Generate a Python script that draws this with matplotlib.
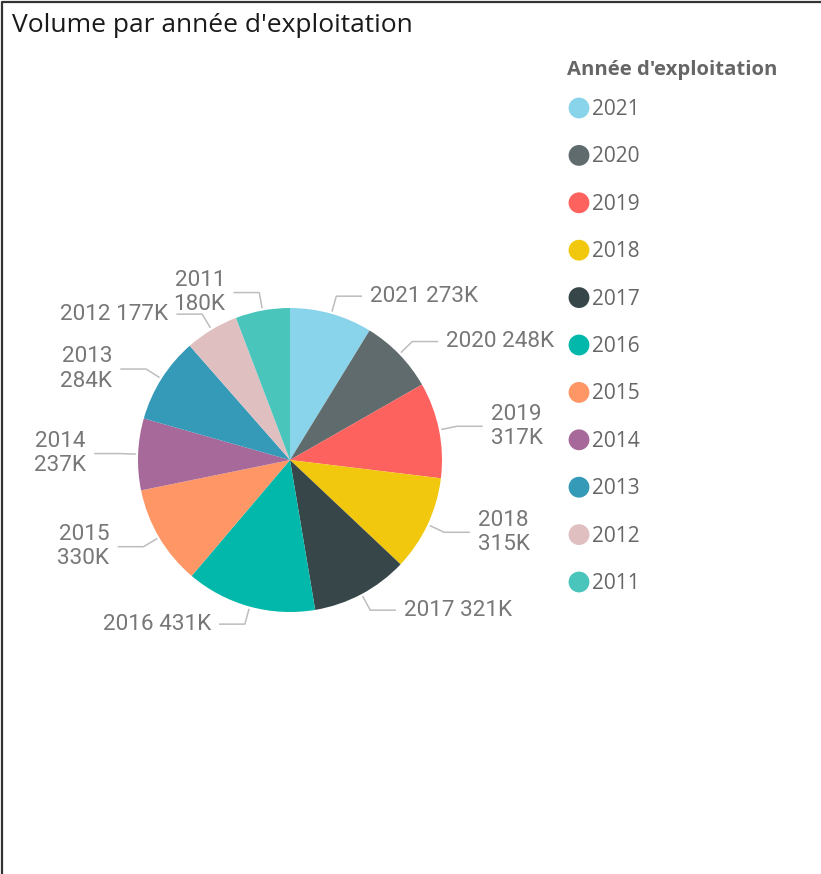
import matplotlib
matplotlib.use('Agg')
import matplotlib.pyplot as plt
import numpy as np

# ── Données ────────────────────────────────────────────────────────────────────
years = ['2021', '2020', '2019', '2018', '2017', '2016',
         '2015', '2014', '2013', '2012', '2011']
volumes = [273, 248, 317, 315, 321, 431, 330, 237, 284, 177, 180]   # en milliers
colors = ['#8AD4EB', '#5F6B6D', '#FD625E', '#F2C80F', '#374649', '#01B8AA',
          '#FE9666', '#A66999', '#3599B8', '#DFBFBF', '#4AC5BB']
# étiquettes sur deux lignes (comme dans Power BI)
wrap = [False, False, True, True, False, False, True, True, True, False, True]

title = "Volume par année d'exploitation"
legend_title = "Année d'exploitation"

# ── Figure en coordonnées pixels ───────────────────────────────────────────────
W, H = 821, 874
fig = plt.figure(figsize=(W / 100, H / 100), dpi=100)
ax = fig.add_axes([0, 0, 1, 1])

cx, cy, R = 290, H - 460, 152
wedges, _ = ax.pie(volumes, colors=colors, startangle=90, counterclock=False,
                   center=(cx, cy), radius=R, wedgeprops=dict(linewidth=0))
ax.set_xlim(0, W)
ax.set_ylim(0, H)
ax.set_aspect('auto')
ax.axis('off')

# étiquettes + lignes de rappel
for w, yr, v, wr in zip(wedges, years, volumes, wrap):
    ang = np.deg2rad((w.theta1 + w.theta2) / 2)
    dx, dy = np.cos(ang), np.sin(ang)
    x1, y1 = cx + 1.02 * R * dx, cy + 1.02 * R * dy
    x2, y2 = cx + 1.12 * R * dx, cy + 1.12 * R * dy
    side = 1 if dx >= 0 else -1
    x3 = x2 + side * 25
    ax.plot([x1, x2, x3], [y1, y2, y2], color='#BDBDBD', lw=1.1)
    txt = f'{yr}\n{v}K' if wr else f'{yr} {v}K'
    ax.text(x3 + side * 9, y2, txt, ha='left' if side > 0 else 'right',
            va='center', ma='left' if side > 0 else 'right',
            fontsize=16.2, family='Roboto', color='#777777', linespacing=1.2)

# ── Légende ────────────────────────────────────────────────────────────────────
ax.text(567, H - 70.5, legend_title, fontsize=14.6, family='Open Sans',
        fontweight='bold', color='#666666', ha='left', va='center')
for i, (yr, col) in enumerate(zip(years, colors)):
    y = H - (108 + i * 47.4)
    ax.scatter([579], [y], s=225, color=col, edgecolors='none', zorder=3)
    ax.text(592, y - 1.5, yr, fontsize=15, family='Open Sans', color='#666666',
            ha='left', va='center')

# ── Titre et cadre ─────────────────────────────────────────────────────────────
ax.text(12, H - 25, title, fontsize=19, family='Open Sans', color='#1a1a1a',
        ha='left', va='center')
ax.plot([1.5, 1.5, W], [0, H - 1.5, H - 1.5], color='#333333', lw=1.6,
        clip_on=False)

fig.savefig('out.png', dpi=100)
